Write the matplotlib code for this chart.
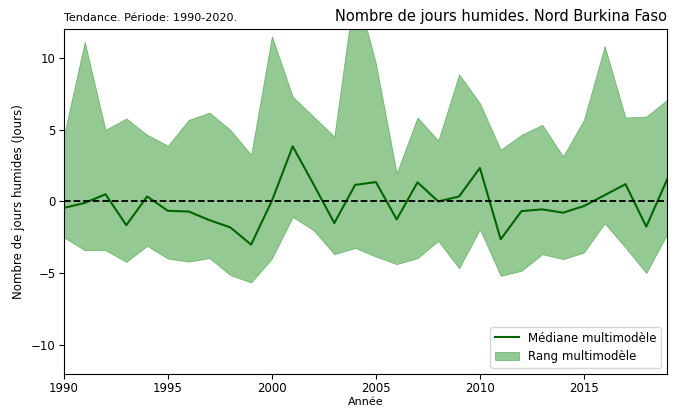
import numpy as np
import matplotlib
matplotlib.use('Agg')
import matplotlib.pyplot as plt

# Années et valeurs
annees = list(range(1990, 2020))

mediane = [-0.45, -0.1, 0.5, -1.65, 0.35, -0.65, -0.7, -1.3, -1.8, -3.0,
           0.05, 3.83, 1.2, -1.5, 1.15, 1.35, -1.25, 1.33, 0.0, 0.35,
           2.33, -2.63, -0.67, -0.55, -0.78, -0.32, 0.44, 1.2, -1.75, 1.52]

haut = [4.6, 11.1, 4.98, 5.77, 4.64, 3.88, 5.67, 6.18, 4.98, 3.25,
        11.49, 7.29, 5.9, 4.52, 15.0, 9.6, 1.98, 5.84, 4.24, 8.84,
        6.83, 3.6, 4.64, 5.33, 3.14, 5.67, 10.8, 5.84, 5.9, 7.06]

bas = [-2.5, -3.39, -3.39, -4.2, -3.09, -3.97, -4.18, -3.94, -5.12, -5.63,
       -3.97, -1.08, -2.0, -3.67, -3.23, -3.83, -4.36, -3.94, -2.75, -4.64,
       -1.94, -5.17, -4.82, -3.67, -4.01, -3.55, -1.52, -3.21, -4.98, -2.28]


def main():
    fig = plt.figure(figsize=(6.8, 4.12), dpi=100)
    ax = fig.add_axes([0.094, 0.092, 0.887, 0.838])

    ax.fill_between(annees, bas, haut, color='green', alpha=0.42,
                    linewidth=0.6, label='Rang multimodèle')
    ax.plot(annees, mediane, color='darkgreen', linewidth=1.5,
            label='Médiane multimodèle')
    ax.axhline(0, color='black', linestyle='--', linewidth=1.3)

    ax.set_xlim(1990, 2019)
    ax.set_ylim(-12, 12)
    ax.set_xticks([1990, 1995, 2000, 2005, 2010, 2015])
    ax.set_yticks([-10, -5, 0, 5, 10])
    ax.tick_params(labelsize=8.5, pad=2.5)

    ax.set_xlabel('Année', fontsize=8, labelpad=1)
    ax.set_ylabel('Nombre de jours humides (Jours)', fontsize=8.5)
    ax.set_title('Tendance. Période: 1990-2020.', loc='left', fontsize=8)
    ax.set_title('Nombre de jours humides. Nord Burkina Faso', loc='right', fontsize=10.5)

    handles, labels = ax.get_legend_handles_labels()
    ax.legend(handles[::-1], labels[::-1], loc='lower right', fontsize=8.5)

    fig.savefig('out.png', dpi=100)


if __name__ == "__main__":
    main()
